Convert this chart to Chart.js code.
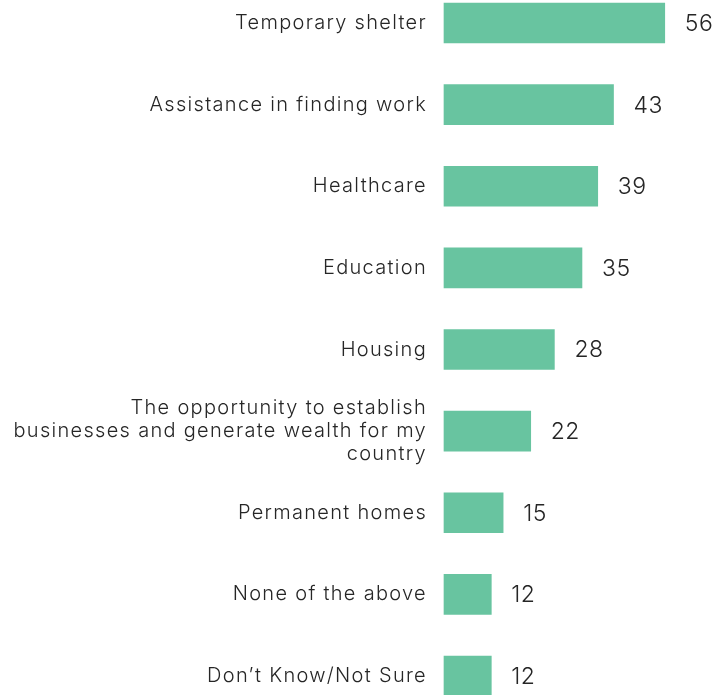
<!DOCTYPE html>
<html>
<head>
<meta charset="utf-8">
<script src="https://cdn.jsdelivr.net/npm/chart.js@4"></script>
<style>
  html, body { margin: 0; padding: 0; background: #ffffff; }
  #wrap { width: 716px; height: 695px; }
</style>
</head>
<body>
<div id="wrap"><canvas id="supportChart"></canvas></div>
<script>
// DATA

const categories = [
  "Temporary shelter",
  "Assistance in finding work",
  "Healthcare",
  "Education",
  "Housing",
  ["The opportunity to establish", "businesses and generate wealth for my", "country"],
  "Permanent homes",
  "None of the above",
  "Don\u2019t Know/Not Sure"
];

const percentages = [56, 43, 39, 35, 28, 22, 15, 12, 12];

const barColor = "#68c4a0";
const textColor = "#262626";
const fontFamily = "Inter, Lato, sans-serif";


// WIDER LETTER SPACING FOR THE CATEGORY LABELS

const spacing = {
  id: "spacing",
  beforeDraw(chart) {
    chart.ctx.letterSpacing = "1.3px";
  }
};


// VALUE LABELS AT BAR END

const valueLabels = {
  id: "valueLabels",
  afterDatasetsDraw(chart) {
    const ctx = chart.ctx;
    const meta = chart.getDatasetMeta(0);
    ctx.save();
    ctx.letterSpacing = "0.5px";
    ctx.font = "300 23px " + fontFamily;
    ctx.fillStyle = textColor;
    ctx.textAlign = "left";
    ctx.textBaseline = "middle";
    meta.data.forEach((bar, i) => {
      ctx.fillText(String(percentages[i]), bar.x + 20, bar.y + 1);
    });
    ctx.restore();
  }
};


// CHART

new Chart(document.getElementById("supportChart"), {
  type: "bar",
  data: {
    labels: categories,
    datasets: [{
      data: percentages,
      backgroundColor: barColor,
      borderWidth: 0,
      barThickness: 40,
      clip: false
    }]
  },
  options: {
    indexAxis: "y",
    responsive: true,
    maintainAspectRatio: false,
    animation: false,
    layout: {
      padding: { top: 23, bottom: 19, left: 0, right: 0 }
    },
    plugins: {
      legend: { display: false },
      tooltip: { enabled: false }
    },
    scales: {
      x: {
        display: false,
        min: 0,
        max: 69
      },
      y: {
        offset: false,
        grid: { display: false, drawTicks: false },
        border: { display: false },
        ticks: {
          color: textColor,
          padding: 17,
          font: { family: fontFamily, size: 20, weight: "300", lineHeight: 1.15 }
        },
        afterFit(scale) {
          scale.width = 444;
          scale.paddingTop = 0;
          scale.paddingBottom = 0;
        }
      }
    }
  },
  plugins: [spacing, valueLabels]
});
</script>
</body>
</html>
